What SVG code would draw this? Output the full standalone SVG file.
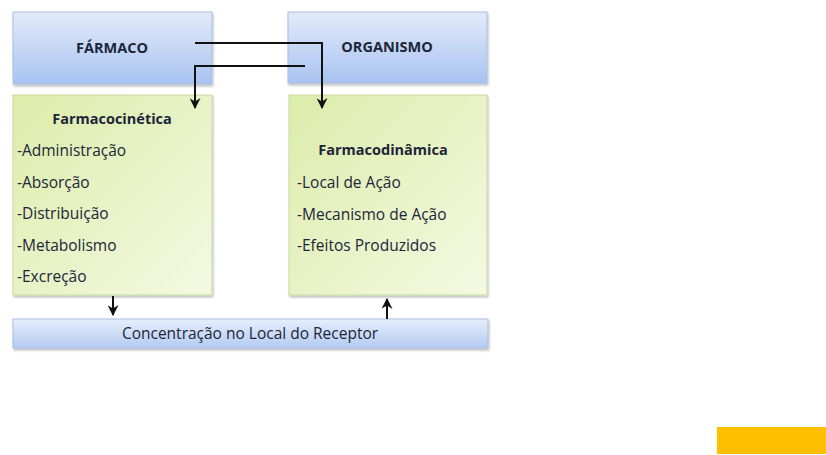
<svg xmlns="http://www.w3.org/2000/svg" width="826" height="455" viewBox="0 0 826 455">
<defs>
<linearGradient id="blue" x1="0" y1="0" x2="0" y2="1">
<stop offset="0" stop-color="#e3ebfa"/>
<stop offset="1" stop-color="#a8c3f1"/>
</linearGradient>
<linearGradient id="blue2" x1="0" y1="0" x2="0" y2="1">
<stop offset="0" stop-color="#e6eefb"/>
<stop offset="1" stop-color="#b3cbf2"/>
</linearGradient>
<linearGradient id="green" x1="0" y1="0" x2="1" y2="1">
<stop offset="0" stop-color="#dcecaa"/>
<stop offset="1" stop-color="#f4f9e2"/>
</linearGradient>
<filter id="sh" x="-5%" y="-5%" width="115%" height="120%">
<feDropShadow dx="1" dy="2" stdDeviation="1.2" flood-color="#000" flood-opacity="0.25"/>
</filter>
<marker id="arr" viewBox="0 0 10 10" refX="9" refY="5" markerWidth="5.5" markerHeight="5.5" orient="auto">
<path d="M0,0 L10,5 L0,10 L3,5 z" fill="#111"/>
</marker>
</defs>
<style>
.bx{stroke:#a9bde0;stroke-width:1;filter:url(#sh)}
.gx{stroke:#c8d9a0;stroke-width:1;filter:url(#sh)}
.t{font-family:"Open Sans","Liberation Sans",sans-serif;fill:#1c2638}
.b{font-weight:bold;font-size:14.5px}
.n{font-size:15.5px}
.c{stroke:#111;stroke-width:2;fill:none}
</style>
<rect x="0" y="0" width="826" height="455" fill="#ffffff"/>
<g id="farmaco">
<rect class="bx" x="13" y="12" width="199" height="72" fill="url(#blue)"/>
<text class="t b" x="112" y="53" text-anchor="middle">FÁRMACO</text>
</g>
<g id="organismo">
<rect class="bx" x="288" y="12" width="199" height="71" fill="url(#blue)"/>
<text class="t b" x="387" y="52" text-anchor="middle">ORGANISMO</text>
</g>
<g id="farmacocinetica">
<rect class="gx" x="13" y="95" width="199" height="200" fill="url(#green)"/>
<text class="t b" x="112" y="124" text-anchor="middle">Farmacocinética</text>
<text class="t n" x="17" y="156">-Administração</text>
<text class="t n" x="17" y="188">-Absorção</text>
<text class="t n" x="17" y="219">-Distribuição</text>
<text class="t n" x="17" y="251">-Metabolismo</text>
<text class="t n" x="17" y="282">-Excreção</text>
</g>
<g id="farmacodinamica">
<rect class="gx" x="289" y="95" width="198" height="200" fill="url(#green)"/>
<text class="t b" x="383" y="155" text-anchor="middle">Farmacodinâmica</text>
<text class="t n" x="297" y="188">-Local de Ação</text>
<text class="t n" x="297" y="220">-Mecanismo de Ação</text>
<text class="t n" x="297" y="251">-Efeitos Produzidos</text>
</g>
<g id="receptor">
<rect class="bx" x="13" y="319" width="475" height="29" fill="url(#blue2)"/>
<text class="t n" x="250" y="339" text-anchor="middle">Concentração no Local do Receptor</text>
</g>
<g id="connectors">
<path class="c" d="M195,43 H322 V108" marker-end="url(#arr)"/>
<path class="c" d="M305,66 H195 V108" marker-end="url(#arr)"/>
<path class="c" d="M113,296 V315" marker-end="url(#arr)"/>
<path class="c" d="M387,319 V299" marker-end="url(#arr)"/>
</g>
<rect x="717" y="427" width="109" height="27" fill="#fdbf00"/>
</svg>
